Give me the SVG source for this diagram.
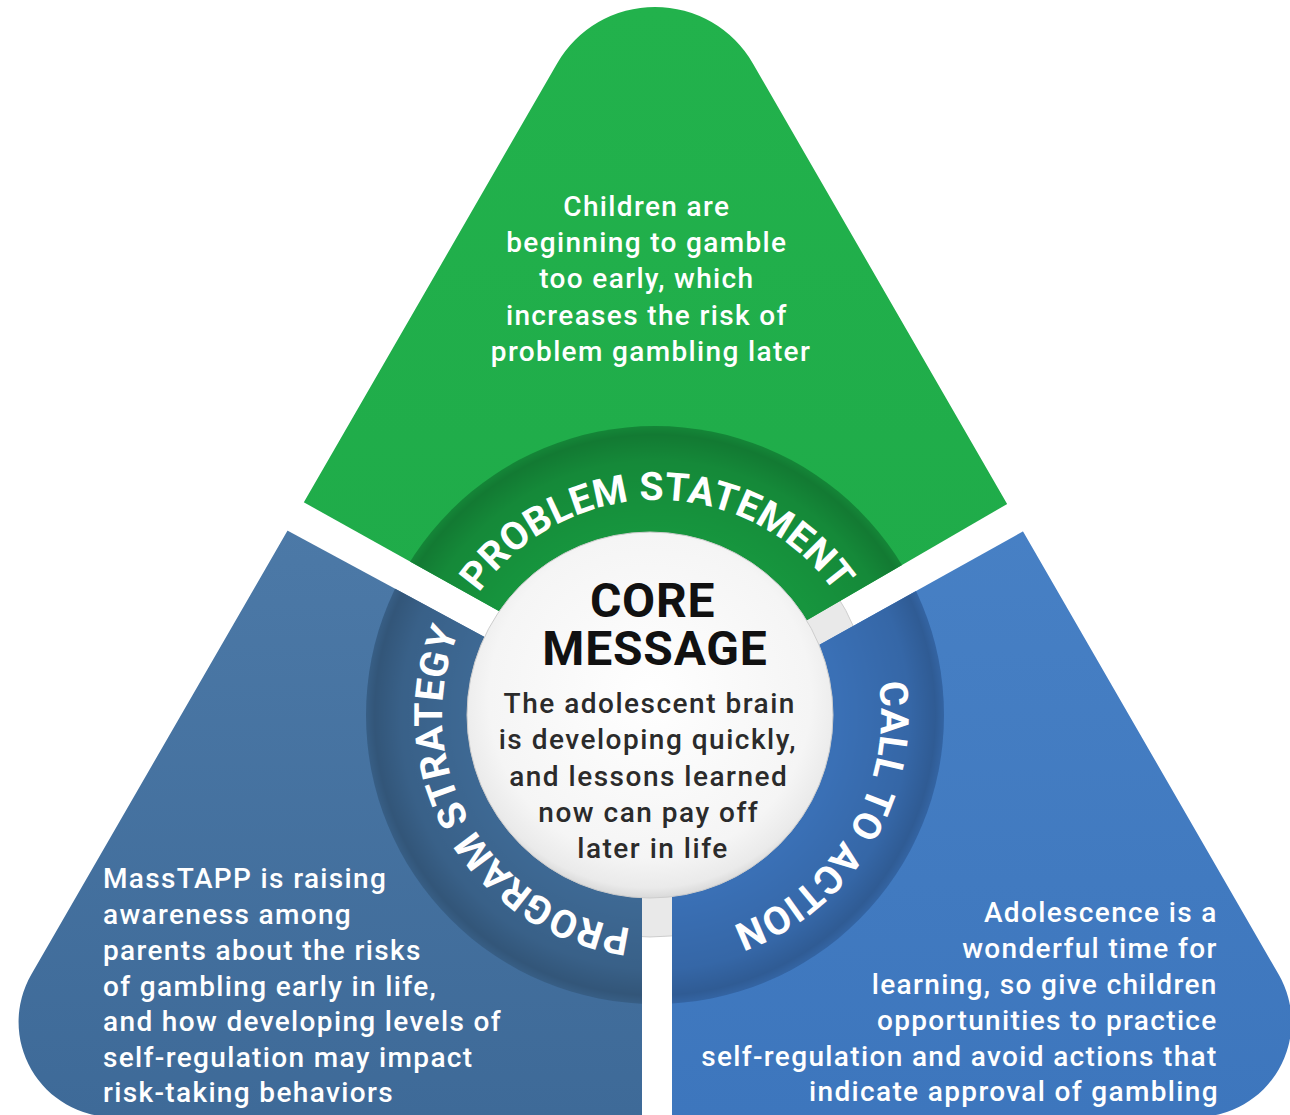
<svg xmlns="http://www.w3.org/2000/svg" width="1290" height="1115" viewBox="0 0 1290 1115">
<defs>
  <linearGradient id="gGreen" x1="0" y1="0" x2="0" y2="1">
    <stop offset="0" stop-color="#22b24c"/>
    <stop offset="1" stop-color="#1da547"/>
  </linearGradient>
  <linearGradient id="gLeft" x1="0" y1="0" x2="0" y2="1">
    <stop offset="0" stop-color="#5886b4"/>
    <stop offset="1" stop-color="#3e6a98"/>
  </linearGradient>
  <linearGradient id="gRight" x1="0" y1="0" x2="0" y2="1">
    <stop offset="0" stop-color="#5089cb"/>
    <stop offset="1" stop-color="#3d76bd"/>
  </linearGradient>
  <radialGradient id="ringShade" gradientUnits="userSpaceOnUse" cx="655" cy="715" r="289">
    <stop offset="0" stop-color="#000" stop-opacity="0"/>
    <stop offset="0.64" stop-color="#000" stop-opacity="0.02"/>
    <stop offset="0.88" stop-color="#000" stop-opacity="0.10"/>
    <stop offset="0.97" stop-color="#000" stop-opacity="0.20"/>
    <stop offset="1" stop-color="#000" stop-opacity="0.12"/>
  </radialGradient>
  <radialGradient id="coreFill" cx="0.5" cy="0.45" r="0.55">
    <stop offset="0" stop-color="#ffffff"/>
    <stop offset="0.8" stop-color="#f5f5f5"/>
    <stop offset="0.95" stop-color="#eaeaea"/>
    <stop offset="1" stop-color="#d9d9d9"/>
  </radialGradient>
  <path id="shape" d="M557.1,63.5 A113,113 0 0 1 752.9,63.5 L1278.7,974.5 A95,95 0 0 1 1196.5,1117 L113.5,1117 A95,95 0 0 1 31.3,974.5 Z"/>
  <clipPath id="cGreen"><polygon points="0,-10 1290,-10 1290,340 664,703 0,333"/></clipPath>
  <clipPath id="cLeft"><polygon points="0,375.4 642,722.1 642,1120 0,1120"/></clipPath>
  <clipPath id="cRight"><polygon points="672,727 1290,382.7 1290,1120 672,1120"/></clipPath>
  <clipPath id="cDisc"><rect x="570" y="0" width="720" height="1115"/></clipPath>
  <path id="arcTop" d="M440,717 A217,217 0 0 1 874,717"/>
  <path id="arcLeft" d="M764.5,901.2 A215,215 0 0 1 549.5,528.8"/>
  <path id="arcRight" d="M772.4,523 A224,224 0 0 1 541.6,907"/>
  <style>
    .body { font-family: Roboto, "Liberation Sans", sans-serif; font-weight: 500; font-size: 28px; fill: #ffffff; letter-spacing: 1.35px; }
    .core { font-family: Roboto, "Liberation Sans", sans-serif; text-anchor: middle; }
    .arc { font-family: Roboto, "Liberation Sans", sans-serif; font-weight: 700; font-size: 39px; fill: #ffffff; letter-spacing: 0.3px; }
  </style>
</defs>
<rect width="1290" height="1115" fill="#ffffff"/>
<circle cx="650" cy="715" r="222" fill="#e9e9e9" stroke="#c4c4c4" stroke-width="0.8" clip-path="url(#cDisc)"/>

<g id="problem-statement">
  <g clip-path="url(#cGreen)">
    <use href="#shape" fill="url(#gGreen)"/>
    <circle cx="655" cy="715" r="289" fill="#17983f"/>
    <circle cx="655" cy="715" r="289" fill="url(#ringShade)"/>
  </g>
  <text class="arc"><textPath href="#arcTop" startOffset="50%" text-anchor="middle">PROBLEM STATEMENT</textPath></text>
  <text class="body" text-anchor="middle">
    <tspan x="651" y="216">Children are</tspan>
    <tspan x="651" y="252">beginning to gamble</tspan>
    <tspan x="651" y="288">too early, which</tspan>
    <tspan x="651" y="325">increases the risk of</tspan>
    <tspan x="651" y="361">problem gambling later</tspan>
  </text>
</g>

<g id="program-strategy">
  <g clip-path="url(#cLeft)">
    <use href="#shape" fill="url(#gLeft)"/>
    <circle cx="655" cy="715" r="289" fill="#3f6b97"/>
    <circle cx="655" cy="715" r="289" fill="url(#ringShade)"/>
  </g>
  <text class="arc"><textPath href="#arcLeft" startOffset="50%" text-anchor="middle">PROGRAM STRATEGY</textPath></text>
  <text class="body">
    <tspan x="103" y="888">MassTAPP is raising</tspan>
    <tspan x="103" y="924">awareness among</tspan>
    <tspan x="103" y="960">parents about the risks</tspan>
    <tspan x="103" y="996">of gambling early in life,</tspan>
    <tspan x="103" y="1031">and how developing levels of</tspan>
    <tspan x="103" y="1067">self-regulation may impact</tspan>
    <tspan x="103" y="1102">risk-taking behaviors</tspan>
  </text>
</g>

<g id="call-to-action">
  <g clip-path="url(#cRight)">
    <use href="#shape" fill="url(#gRight)"/>
    <circle cx="655" cy="715" r="289" fill="#3b72b9"/>
    <circle cx="655" cy="715" r="289" fill="url(#ringShade)"/>
  </g>
  <text class="arc"><textPath href="#arcRight" startOffset="50%" text-anchor="middle">CALL TO ACTION</textPath></text>
  <text class="body" text-anchor="end">
    <tspan x="1226" y="922">Adolescence is a</tspan>
    <tspan x="1226" y="958">wonderful time for</tspan>
    <tspan x="1226" y="994">learning, so give children</tspan>
    <tspan x="1226" y="1030">opportunities to practice</tspan>
    <tspan x="1226" y="1066">self-regulation and avoid actions that</tspan>
    <tspan x="1219" y="1101">indicate approval of gambling</tspan>
  </text>
</g>

<g id="core-message">
  <circle cx="650" cy="715" r="183" fill="url(#coreFill)" stroke="#cdcdcd" stroke-width="1"/>
  <text class="core" font-size="48" font-weight="700" fill="#111111" letter-spacing="0.8">
    <tspan x="659" y="617">CORE</tspan>
    <tspan x="655" y="665">MESSAGE</tspan>
  </text>
  <text class="core" font-size="28" font-weight="500" fill="#2b2b2b" letter-spacing="1.5">
    <tspan x="654" y="713">The adolescent brain</tspan>
    <tspan x="652" y="749">is developing quickly,</tspan>
    <tspan x="653" y="786">and lessons learned</tspan>
    <tspan x="653" y="822">now can pay off</tspan>
    <tspan x="653" y="858">later in life</tspan>
  </text>
</g>
<g id="connectors"/>
</svg>
